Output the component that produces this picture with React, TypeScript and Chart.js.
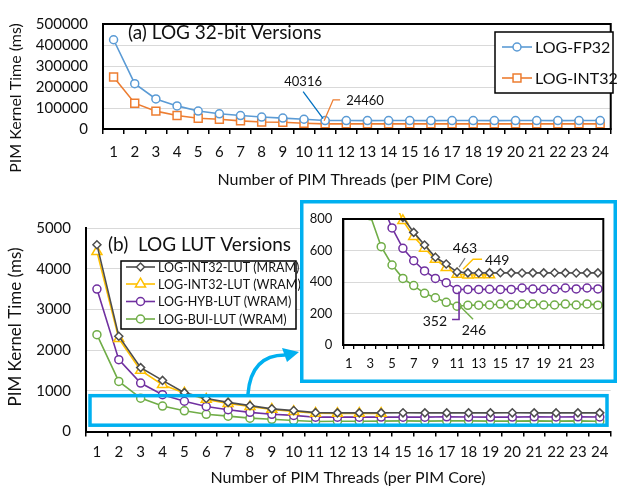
import React, { useEffect, useRef } from "react";
import { Chart, registerables } from "chart.js";

Chart.register(...registerables);

const FONT = "Lato, 'Open Sans', sans-serif";

// ---------- data ----------
const threads = ["1", "2", "3", "4", "5", "6", "7", "8", "9", "10", "11", "12", "13", "14", "15", "16", "17", "18", "19", "20", "21", "22", "23", "24"];

const topYTicks = [0, 100000, 200000, 300000, 400000, 500000];
const bottomYTicks = [0, 1000, 2000, 3000, 4000, 5000];
const insetYTicks = [0, 200, 400, 600, 800];

const logFp32 = [425000, 216000, 143000, 110000, 85500, 72500, 64000, 57000, 52000, 46500, 40316, 40200, 40100, 40300, 40200, 40100, 40300, 40200, 40100, 40200, 40300, 40100, 40200, 40300];
const logInt32 = [248000, 123000, 85000, 64000, 51500, 46500, 38500, 33500, 32000, 27500, 24460, 24500, 24400, 24500, 24450, 24500, 24400, 24500, 24450, 24500, 24400, 24500, 24450, 24500];

const lutInt32Mram = [4590, 2340, 1570, 1255, 955, 810, 715, 635, 557, 514, 463, 458, 457, 458, 459, 458, 457, 458, 458, 459, 458, 457, 458, 458];
const lutInt32Wram = [4420, 2280, 1500, 1150, 945, 790, 688, 614, 544, 491, 449, 444, 445, 445, null, null, null, null, null, null, null, null, null, null];
const hybLutWram = [3500, 1765, 1190, 905, 743, 614, 535, 470, 423, 396, 352, 353, 353, 354, 353, 353, 362, 355, 354, 354, 362, 356, 362, 356];
const buiLutWram = [2380, 1230, 820, 624, 508, 423, 377, 328, 300, 271, 246, 252, 253, 254, 260, 255, 260, 261, 254, 254, 260, 254, 261, 253];

const topNames = ["LOG-FP32", "LOG-INT32"];
const lutNames = ["LOG-INT32-LUT (MRAM)", "LOG-INT32-LUT (WRAM)", "LOG-HYB-LUT (WRAM)", "LOG-BUI-LUT (WRAM)"];

// ---------- styles ----------
const BLUE = "#5B9BD5";
const ORANGE = "#ED7D31";
const GRAY = "#4d4d4d";
const GOLD = "#FFC000";
const PURPLE = "#7030A0";
const GREEN = "#70AD47";
const CYAN = "#00B0F0";

type Sty = { color: string; point: string; r: number };
const topStyles: Sty[] = [
  { color: BLUE, point: "circle", r: 4 },
  { color: ORANGE, point: "rect", r: 5.6 },
];
const lutStyles: Sty[] = [
  { color: GRAY, point: "rectRot", r: 4 },
  { color: GOLD, point: "triangle", r: 5.8 },
  { color: PURPLE, point: "circle", r: 4 },
  { color: GREEN, point: "circle", r: 4 },
];

function drawMarker(ctx: CanvasRenderingContext2D, style: string, x: number, y: number, r: number, stroke: string, lw: number) {
  ctx.save();
  ctx.beginPath();
  if (style === "circle") ctx.arc(x, y, r, 0, Math.PI * 2);
  else if (style === "rect") {
    const s = r * Math.SQRT1_2;
    ctx.rect(x - s, y - s, 2 * s, 2 * s);
  } else if (style === "rectRot") {
    ctx.moveTo(x - r, y);
    ctx.lineTo(x, y - r);
    ctx.lineTo(x + r, y);
    ctx.lineTo(x, y + r);
    ctx.closePath();
  } else if (style === "triangle") {
    for (let i = 0; i < 3; i++) {
      const a = (i * 2 * Math.PI) / 3;
      const px = x + Math.sin(a) * r;
      const py = y - Math.cos(a) * r;
      if (i === 0) ctx.moveTo(px, py);
      else ctx.lineTo(px, py);
    }
    ctx.closePath();
  }
  ctx.fillStyle = "#fff";
  ctx.fill();
  ctx.lineWidth = lw;
  ctx.strokeStyle = stroke;
  ctx.stroke();
  ctx.restore();
}

function makeDataset(label: string, data: (number | null)[], s: Sty, extra: any = {}) {
  return {
    label,
    data,
    borderColor: s.color,
    backgroundColor: "#fff",
    pointBackgroundColor: "#fff",
    pointBorderColor: s.color,
    pointStyle: s.point,
    pointRadius: s.r,
    pointBorderWidth: 1.5,
    borderWidth: 1.6,
    tension: 0,
    spanGaps: false,
    ...extra,
  };
}

function text(ctx: CanvasRenderingContext2D, t: string, x: number, y: number, size: number, align: CanvasTextAlign = "center", rot = 0) {
  ctx.save();
  ctx.font = `${size}px ${FONT}`;
  ctx.fillStyle = "#111";
  ctx.textAlign = align;
  ctx.textBaseline = "middle";
  ctx.translate(x, y);
  if (rot) ctx.rotate(rot);
  ctx.fillText(t, 0, 0);
  ctx.restore();
}

function line(ctx: CanvasRenderingContext2D, pts: number[][], color: string, lw = 1.3) {
  ctx.save();
  ctx.beginPath();
  pts.forEach((p, i) => (i === 0 ? ctx.moveTo(p[0], p[1]) : ctx.lineTo(p[0], p[1])));
  ctx.strokeStyle = color;
  ctx.lineWidth = lw;
  ctx.stroke();
  ctx.restore();
}

function drawLegend(ctx: CanvasRenderingContext2D, box: number[], names: string[], styles: Sty[], rows: number[], lineX: number[], textX: number, size: number) {
  ctx.save();
  ctx.fillStyle = "#fff";
  ctx.fillRect(box[0], box[1], box[2] - box[0], box[3] - box[1]);
  ctx.strokeStyle = "#000";
  ctx.lineWidth = 1.5;
  ctx.strokeRect(box[0], box[1], box[2] - box[0], box[3] - box[1]);
  ctx.restore();
  names.forEach((n, i) => {
    const y = rows[i];
    line(ctx, [[lineX[0], y], [lineX[1], y]], styles[i].color, 1.6);
    drawMarker(ctx, styles[i].point, (lineX[0] + lineX[1]) / 2, y, styles[i].r, styles[i].color, 1.5);
    text(ctx, n, textX, y + 0.5, size, "left");
  });
}

function setTicks(values: number[]) {
  return (scale: any) => {
    scale.ticks = values.map((v) => ({ value: v }));
  };
}

const plain = (v: any) => String(v);

// ---------- chart builders ----------
function buildTop(): any {
  return {
    type: "line",
    data: {
      labels: threads,
      datasets: [makeDataset(topNames[0], logFp32, topStyles[0]), makeDataset(topNames[1], logInt32, topStyles[1])],
    },
    options: {
      animation: false,
      responsive: false,
      maintainAspectRatio: false,
      layout: { padding: { left: 0, top: 14, right: 7, bottom: 0 } },
      plugins: { legend: { display: false }, tooltip: { enabled: false } },
      scales: {
        x: {
          offset: true,
          grid: { offset: true, drawOnChartArea: false, drawTicks: true, tickLength: 5, color: "#000", lineWidth: 1.5 },
          border: { color: "#000", width: 2 },
          ticks: { font: { size: 15, family: FONT }, color: "#111", padding: 9, maxRotation: 0, autoSkip: false },
          afterFit: (s: any) => {
            s.height = 65;
          },
        },
        y: {
          min: 0,
          max: 500000,
          afterBuildTicks: setTicks(topYTicks),
          ticks: { font: { size: 15, family: FONT }, color: "#111", padding: 15, callback: plain },
          grid: { color: "#d9d9d9", drawTicks: false, lineWidth: 1 },
          border: { color: "#000", width: 2 },
          afterFit: (s: any) => {
            s.width = 103;
          },
        },
      },
    },
    plugins: [
      {
        id: "topDeco",
        afterDraw(chart: any) {
          const ctx = chart.ctx as CanvasRenderingContext2D;
          const a = chart.chartArea;
          ctx.save();
          ctx.strokeStyle = "#000";
          ctx.lineWidth = 2;
          ctx.strokeRect(a.left, a.top, a.right - a.left, a.bottom - a.top);
          ctx.restore();
          text(ctx, "(a) LOG 32-bit Versions", 128, 33, 19, "left");
          text(ctx, "PIM Kernel Time (ms)", 16, 98, 16, "center", -Math.PI / 2);
          text(ctx, "Number of PIM Threads (per PIM Core)", 355, 180, 16);
          // data labels
          const p0 = chart.getDatasetMeta(0).data[10];
          line(ctx, [[p0.x - 2, p0.y - 2], [p0.x - 22, p0.y - 29]], "#0070C0", 1.3);
          text(ctx, String(logFp32[10]), p0.x - 22, p0.y - 39, 13);
          const p1 = chart.getDatasetMeta(1).data[10];
          line(ctx, [[p1.x - 1, p1.y - 3], [p1.x + 8, p1.y - 24], [p1.x + 15, p1.y - 24]], ORANGE, 1.3);
          text(ctx, String(logInt32[10]), p1.x + 21, p1.y - 23, 13, "left");
          drawLegend(ctx, [495, 32, 613, 93], topNames, topStyles, [47, 78], [502, 532], 535, 16);
        },
      },
    ],
  };
}

function buildBottom(): any {
  return {
    type: "line",
    data: {
      labels: threads,
      datasets: lutNames.map((n, i) => makeDataset(n, [lutInt32Mram, lutInt32Wram, hybLutWram, buiLutWram][i], lutStyles[i])),
    },
    options: {
      animation: false,
      responsive: false,
      maintainAspectRatio: false,
      layout: { padding: { left: 0, top: 32, right: 7, bottom: 0 } },
      plugins: { legend: { display: false }, tooltip: { enabled: false } },
      scales: {
        x: {
          offset: true,
          grid: { offset: true, drawOnChartArea: false, drawTicks: true, tickLength: 5, color: "#000", lineWidth: 1.5 },
          border: { color: "#000", width: 2 },
          ticks: { font: { size: 15, family: FONT }, color: "#111", padding: 7, maxRotation: 0, autoSkip: false },
          afterFit: (s: any) => {
            s.height = 62.5;
          },
        },
        y: {
          min: 0,
          max: 5000,
          afterBuildTicks: setTicks(bottomYTicks),
          ticks: { font: { size: 15, family: FONT }, color: "#111", padding: 15, callback: plain },
          grid: { color: "#d9d9d9", drawTicks: false, lineWidth: 1 },
          border: { color: "#000", width: 2 },
          afterFit: (s: any) => {
            s.width = 86;
          },
        },
      },
    },
    plugins: [
      {
        id: "bottomDeco",
        afterDraw(chart: any) {
          const ctx = chart.ctx as CanvasRenderingContext2D;
          const a = chart.chartArea;
          const ys = chart.scales.y;
          const xs = chart.scales.x;
          text(ctx, "(b)  LOG LUT Versions", 108, 49, 19, "left");
          text(ctx, "PIM Kernel Time (ms)", 16, 131, 17, "center", -Math.PI / 2);
          text(ctx, "Number of PIM Threads (per PIM Core)", 348, 282, 16);
          drawLegend(ctx, [121, 65, 296, 133], lutNames, lutStyles, [71, 88, 105.5, 123], [126, 155], 158, 12.5);
          // zoom rectangle
          const top = ys.getPixelForValue(880);
          const bot = ys.getPixelForValue(155);
          ctx.save();
          ctx.strokeStyle = CYAN;
          ctx.lineWidth = 3.5;
          ctx.strokeRect(a.left + 4, top, a.right - a.left - 7.7, bot - top);
          // curved arrow
          const sx = xs.getPixelForValue(7) - 2;
          const tipX = 299;
          const tipY = 156;
          ctx.beginPath();
          ctx.moveTo(sx, top - 1.5);
          ctx.quadraticCurveTo(sx + 3, tipY + 3, tipX - 14, tipY + 3);
          ctx.stroke();
          ctx.beginPath();
          ctx.moveTo(tipX, tipY);
          ctx.lineTo(tipX - 17, tipY - 4);
          ctx.lineTo(tipX - 12, tipY + 10);
          ctx.closePath();
          ctx.fillStyle = CYAN;
          ctx.fill();
          ctx.restore();
        },
      },
    ],
  };
}

function buildInset(): any {
  const fullClip = { left: 0, top: 0, right: 0, bottom: 0 };
  const data = [lutInt32Mram, lutInt32Wram, hybLutWram, buiLutWram];
  return {
    type: "line",
    data: {
      labels: threads,
      datasets: lutNames.map((n, i) => makeDataset(n, data[i], lutStyles[i], { clip: i === 1 ? { left: 0, top: 6, right: 0, bottom: 0 } : fullClip })),
    },
    options: {
      animation: false,
      responsive: false,
      maintainAspectRatio: false,
      layout: { padding: { left: 0, top: 19, right: 13.7, bottom: 0 } },
      plugins: { legend: { display: false }, tooltip: { enabled: false } },
      scales: {
        x: {
          offset: true,
          grid: { offset: true, drawOnChartArea: false, drawTicks: true, tickLength: 4, color: "#000", lineWidth: 1.3 },
          border: { color: "#000", width: 2 },
          ticks: {
            font: { size: 13, family: FONT },
            color: "#111",
            padding: 7,
            maxRotation: 0,
            autoSkip: false,
            callback: (_v: any, i: number) => (i % 2 === 0 ? threads[i] : ""),
          },
          afterFit: (s: any) => {
            s.height = 38;
          },
        },
        y: {
          min: 0,
          max: 800,
          afterBuildTicks: setTicks(insetYTicks),
          ticks: { font: { size: 13, family: FONT }, color: "#111", padding: 11, callback: plain },
          grid: { color: "#d9d9d9", drawTicks: false, lineWidth: 1 },
          border: { color: "#000", width: 2 },
          afterFit: (s: any) => {
            s.width = 43.3;
          },
        },
      },
    },
    plugins: [
      {
        id: "insetBg",
        beforeDraw(chart: any) {
          const ctx = chart.ctx as CanvasRenderingContext2D;
          ctx.save();
          ctx.fillStyle = "#fff";
          ctx.fillRect(0, 0, chart.width, chart.height);
          ctx.restore();
        },
        afterDraw(chart: any) {
          const ctx = chart.ctx as CanvasRenderingContext2D;
          const a = chart.chartArea;
          ctx.save();
          ctx.strokeStyle = "#000";
          ctx.lineWidth = 2;
          ctx.strokeRect(a.left, a.top, a.right - a.left, a.bottom - a.top);
          ctx.strokeStyle = CYAN;
          ctx.lineWidth = 3.5;
          ctx.strokeRect(1.75, 1.75, chart.width - 3.5, chart.height - 3.5);
          ctx.restore();
          const pg = chart.getDatasetMeta(0).data[10];
          line(ctx, [[pg.x + 2, pg.y - 5], [pg.x + 8, pg.y - 14]], "#7f7f7f", 1.2);
          text(ctx, String(lutInt32Mram[10]), pg.x + 8, pg.y - 24, 14);
          const py = chart.getDatasetMeta(1).data[10];
          line(ctx, [[py.x + 6, py.y - 5], [py.x + 16, py.y - 15], [py.x + 25, py.y - 15]], GOLD, 1.4);
          text(ctx, String(lutInt32Wram[10]), py.x + 28, py.y - 14, 14, "left");
          const pp = chart.getDatasetMeta(2).data[10];
          line(ctx, [[pp.x + 2, pp.y + 2], [pp.x + 2, pp.y + 30], [pp.x - 5, pp.y + 30]], PURPLE, 1.6);
          text(ctx, String(hybLutWram[10]), pp.x - 10, pp.y + 32, 14, "right");
          const pn = chart.getDatasetMeta(3).data[10];
          line(ctx, [[pn.x + 3, pn.y], [pn.x + 16, pn.y + 13]], GREEN, 1.4);
          text(ctx, String(buiLutWram[10]), pn.x + 17, pn.y + 24, 14);
        },
      },
    ],
  };
}

function ChartCanvas(props: { left: number; top: number; width: number; height: number; build: () => any }) {
  const ref = useRef<HTMLCanvasElement>(null);
  useEffect(() => {
    const chart = new Chart(ref.current as HTMLCanvasElement, props.build());
    return () => chart.destroy();
  }, []);
  return (
    <canvas
      ref={ref}
      width={props.width}
      height={props.height}
      style={{ position: "absolute", left: props.left, top: props.top, width: props.width, height: props.height }}
    />
  );
}

export default function App() {
  return (
    <div style={{ position: "fixed", left: 0, top: 0, width: 618, height: 494, background: "#fff", overflow: "hidden" }}>
      <ChartCanvas left={0} top={0} width={618} height={194} build={buildTop} />
      <ChartCanvas left={0} top={196} width={618} height={298} build={buildBottom} />
      <ChartCanvas left={300} top={200} width={317} height={183} build={buildInset} />
    </div>
  );
}
